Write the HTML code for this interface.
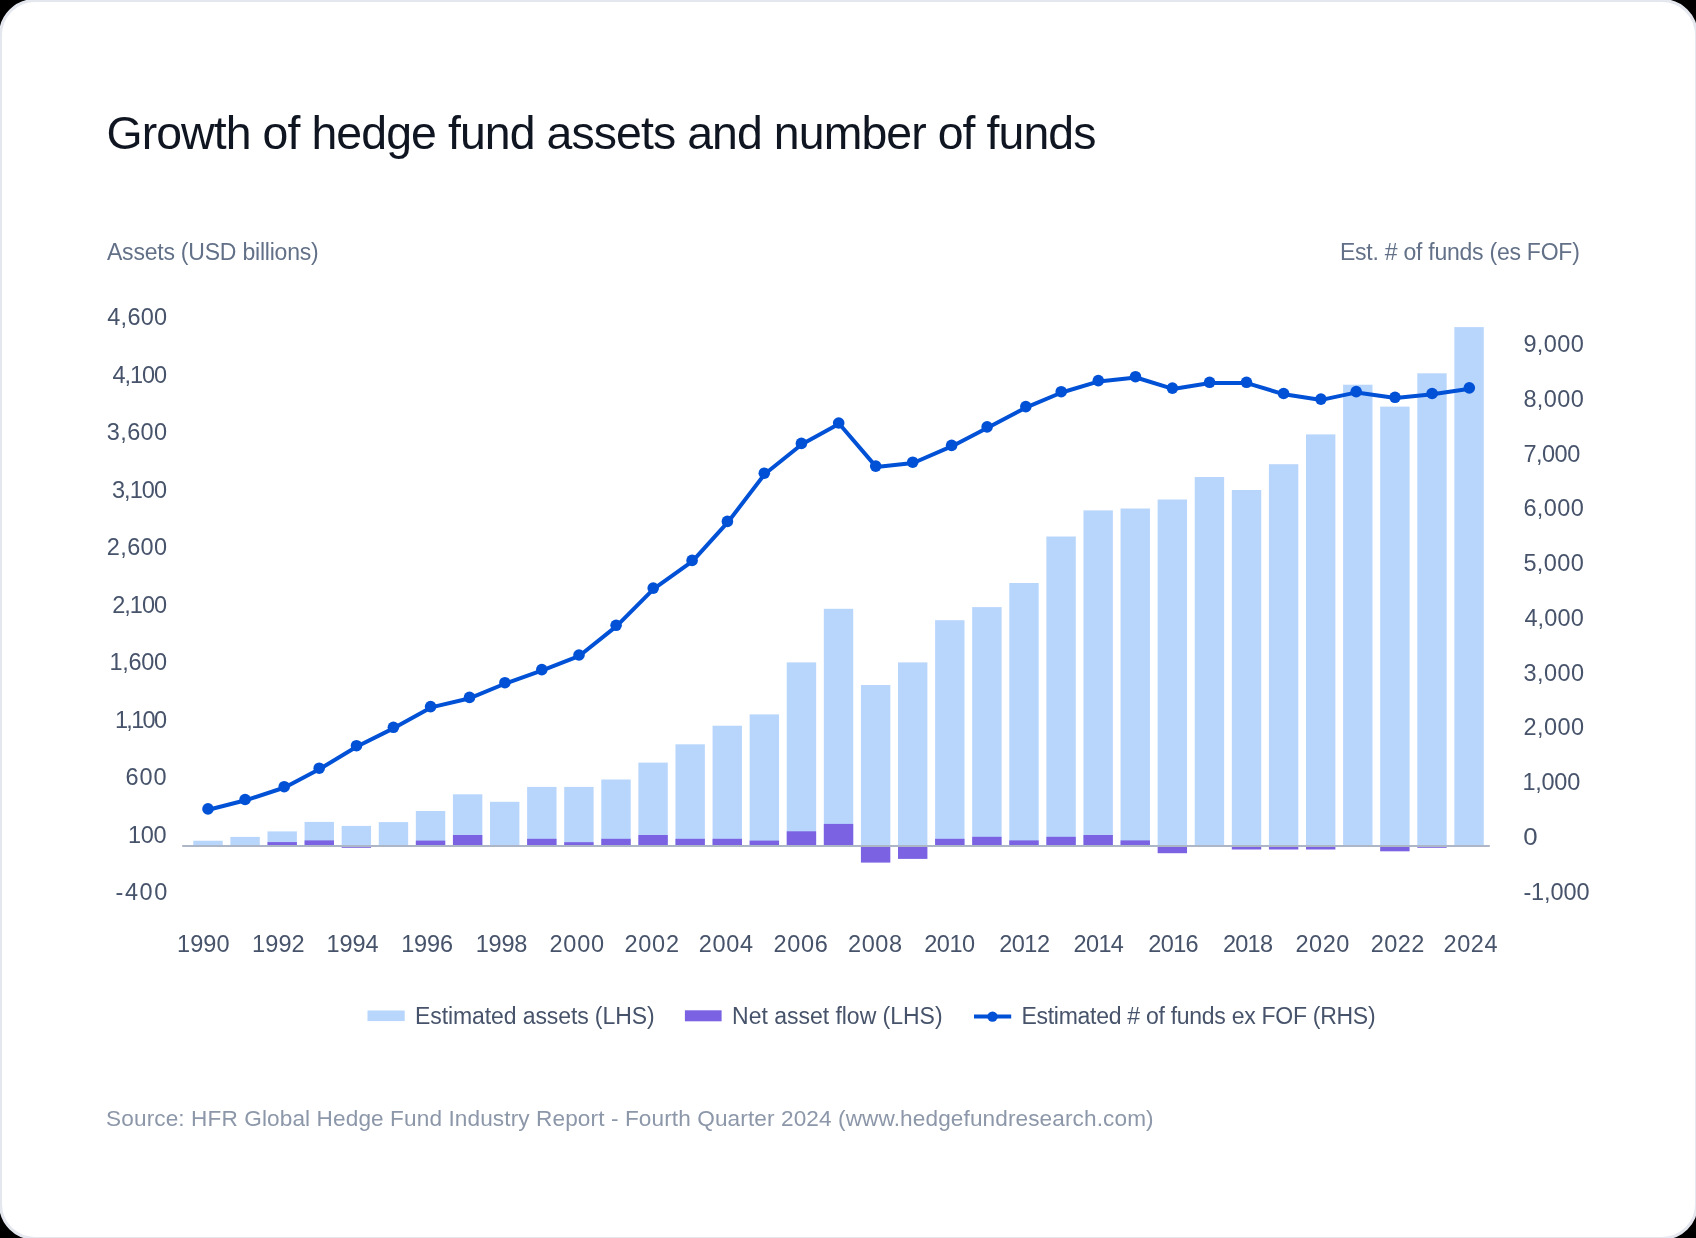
<!DOCTYPE html>
<html><head><meta charset="utf-8"><title>Growth of hedge fund assets and number of funds</title>
<style>
html,body{margin:0;padding:0;background:#000;width:1696px;height:1238px;overflow:hidden}
.card{position:absolute;left:-1.5px;top:-1.5px;width:1699px;height:1241px;box-sizing:border-box;border:3.5px solid #e4e7ee;border-radius:36px;background:#fff}
svg{position:absolute;left:0;top:0;will-change:transform}
text{font-family:"Liberation Sans", sans-serif}
</style></head>
<body><div class="card"></div>
<svg width="1696" height="1238" viewBox="0 0 1696 1238">
<rect x="193.30" y="840.70" width="29.4" height="5.00" fill="#b8d6fc"/>
<rect x="230.39" y="836.90" width="29.4" height="8.80" fill="#b8d6fc"/>
<rect x="267.48" y="831.40" width="29.4" height="14.30" fill="#b8d6fc"/>
<rect x="304.57" y="821.90" width="29.4" height="23.80" fill="#b8d6fc"/>
<rect x="341.66" y="825.90" width="29.4" height="19.80" fill="#b8d6fc"/>
<rect x="378.75" y="822.10" width="29.4" height="23.60" fill="#b8d6fc"/>
<rect x="415.84" y="811.00" width="29.4" height="34.70" fill="#b8d6fc"/>
<rect x="452.93" y="794.30" width="29.4" height="51.40" fill="#b8d6fc"/>
<rect x="490.02" y="801.80" width="29.4" height="43.90" fill="#b8d6fc"/>
<rect x="527.11" y="786.90" width="29.4" height="58.80" fill="#b8d6fc"/>
<rect x="564.20" y="786.90" width="29.4" height="58.80" fill="#b8d6fc"/>
<rect x="601.29" y="779.50" width="29.4" height="66.20" fill="#b8d6fc"/>
<rect x="638.38" y="762.60" width="29.4" height="83.10" fill="#b8d6fc"/>
<rect x="675.47" y="744.30" width="29.4" height="101.40" fill="#b8d6fc"/>
<rect x="712.56" y="725.70" width="29.4" height="120.00" fill="#b8d6fc"/>
<rect x="749.65" y="714.40" width="29.4" height="131.30" fill="#b8d6fc"/>
<rect x="786.74" y="662.40" width="29.4" height="183.30" fill="#b8d6fc"/>
<rect x="823.83" y="608.80" width="29.4" height="236.90" fill="#b8d6fc"/>
<rect x="860.92" y="685.00" width="29.4" height="160.70" fill="#b8d6fc"/>
<rect x="898.01" y="662.40" width="29.4" height="183.30" fill="#b8d6fc"/>
<rect x="935.10" y="620.20" width="29.4" height="225.50" fill="#b8d6fc"/>
<rect x="972.19" y="607.10" width="29.4" height="238.60" fill="#b8d6fc"/>
<rect x="1009.28" y="583.00" width="29.4" height="262.70" fill="#b8d6fc"/>
<rect x="1046.37" y="536.50" width="29.4" height="309.20" fill="#b8d6fc"/>
<rect x="1083.46" y="510.40" width="29.4" height="335.30" fill="#b8d6fc"/>
<rect x="1120.55" y="508.50" width="29.4" height="337.20" fill="#b8d6fc"/>
<rect x="1157.64" y="499.50" width="29.4" height="346.20" fill="#b8d6fc"/>
<rect x="1194.73" y="477.00" width="29.4" height="368.70" fill="#b8d6fc"/>
<rect x="1231.82" y="490.00" width="29.4" height="355.70" fill="#b8d6fc"/>
<rect x="1268.91" y="464.20" width="29.4" height="381.50" fill="#b8d6fc"/>
<rect x="1306.00" y="434.40" width="29.4" height="411.30" fill="#b8d6fc"/>
<rect x="1343.09" y="384.70" width="29.4" height="461.00" fill="#b8d6fc"/>
<rect x="1380.18" y="406.60" width="29.4" height="439.10" fill="#b8d6fc"/>
<rect x="1417.27" y="373.30" width="29.4" height="472.40" fill="#b8d6fc"/>
<rect x="1454.36" y="327.10" width="29.4" height="518.60" fill="#b8d6fc"/>
<rect x="267.48" y="842.10" width="29.4" height="3.60" fill="#7b62e2"/>
<rect x="304.57" y="840.40" width="29.4" height="5.30" fill="#7b62e2"/>
<rect x="341.66" y="845.70" width="29.4" height="2.10" fill="#7b62e2"/>
<rect x="415.84" y="840.60" width="29.4" height="5.10" fill="#7b62e2"/>
<rect x="452.93" y="835.00" width="29.4" height="10.70" fill="#7b62e2"/>
<rect x="527.11" y="838.80" width="29.4" height="6.90" fill="#7b62e2"/>
<rect x="564.20" y="842.20" width="29.4" height="3.50" fill="#7b62e2"/>
<rect x="601.29" y="838.80" width="29.4" height="6.90" fill="#7b62e2"/>
<rect x="638.38" y="835.00" width="29.4" height="10.70" fill="#7b62e2"/>
<rect x="675.47" y="838.80" width="29.4" height="6.90" fill="#7b62e2"/>
<rect x="712.56" y="838.80" width="29.4" height="6.90" fill="#7b62e2"/>
<rect x="749.65" y="840.60" width="29.4" height="5.10" fill="#7b62e2"/>
<rect x="786.74" y="831.30" width="29.4" height="14.40" fill="#7b62e2"/>
<rect x="823.83" y="823.90" width="29.4" height="21.80" fill="#7b62e2"/>
<rect x="860.92" y="845.70" width="29.4" height="16.90" fill="#7b62e2"/>
<rect x="898.01" y="845.70" width="29.4" height="13.20" fill="#7b62e2"/>
<rect x="935.10" y="838.80" width="29.4" height="6.90" fill="#7b62e2"/>
<rect x="972.19" y="836.80" width="29.4" height="8.90" fill="#7b62e2"/>
<rect x="1009.28" y="840.40" width="29.4" height="5.30" fill="#7b62e2"/>
<rect x="1046.37" y="836.80" width="29.4" height="8.90" fill="#7b62e2"/>
<rect x="1083.46" y="835.00" width="29.4" height="10.70" fill="#7b62e2"/>
<rect x="1120.55" y="840.40" width="29.4" height="5.30" fill="#7b62e2"/>
<rect x="1157.64" y="845.70" width="29.4" height="7.50" fill="#7b62e2"/>
<rect x="1231.82" y="845.70" width="29.4" height="3.80" fill="#7b62e2"/>
<rect x="1268.91" y="845.70" width="29.4" height="3.80" fill="#7b62e2"/>
<rect x="1306.00" y="845.70" width="29.4" height="3.80" fill="#7b62e2"/>
<rect x="1380.18" y="845.70" width="29.4" height="5.60" fill="#7b62e2"/>
<rect x="1417.27" y="845.70" width="29.4" height="2.10" fill="#7b62e2"/>
<line x1="182.2" y1="846.1" x2="1489.8" y2="846.1" stroke="#adb6c6" stroke-width="2"/>
<polyline points="208.00,808.90 245.10,799.50 284.20,786.70 319.20,768.20 356.50,745.70 393.40,727.30 430.60,706.60 469.50,697.40 504.90,682.70 541.80,669.60 579.00,655.00 616.10,625.30 653.20,588.10 692.10,560.40 727.40,521.40 764.30,473.20 801.40,443.40 838.70,423.00 875.70,466.10 912.70,462.20 951.60,445.40 987.10,426.90 1025.80,406.60 1061.20,391.70 1098.30,380.60 1135.50,376.70 1172.40,388.10 1209.60,382.30 1246.50,382.30 1283.60,393.50 1320.90,399.10 1356.20,391.60 1395.00,397.30 1432.10,393.50 1469.30,387.90" transform="translate(0.5,0.8)" fill="none" stroke="#0051d6" stroke-width="4" stroke-linejoin="round"/>
<circle cx="208.00" cy="808.90" r="5.8" fill="#0051d6"/>
<circle cx="245.10" cy="799.50" r="5.8" fill="#0051d6"/>
<circle cx="284.20" cy="786.70" r="5.8" fill="#0051d6"/>
<circle cx="319.20" cy="768.20" r="5.8" fill="#0051d6"/>
<circle cx="356.50" cy="745.70" r="5.8" fill="#0051d6"/>
<circle cx="393.40" cy="727.30" r="5.8" fill="#0051d6"/>
<circle cx="430.60" cy="706.60" r="5.8" fill="#0051d6"/>
<circle cx="469.50" cy="697.40" r="5.8" fill="#0051d6"/>
<circle cx="504.90" cy="682.70" r="5.8" fill="#0051d6"/>
<circle cx="541.80" cy="669.60" r="5.8" fill="#0051d6"/>
<circle cx="579.00" cy="655.00" r="5.8" fill="#0051d6"/>
<circle cx="616.10" cy="625.30" r="5.8" fill="#0051d6"/>
<circle cx="653.20" cy="588.10" r="5.8" fill="#0051d6"/>
<circle cx="692.10" cy="560.40" r="5.8" fill="#0051d6"/>
<circle cx="727.40" cy="521.40" r="5.8" fill="#0051d6"/>
<circle cx="764.30" cy="473.20" r="5.8" fill="#0051d6"/>
<circle cx="801.40" cy="443.40" r="5.8" fill="#0051d6"/>
<circle cx="838.70" cy="423.00" r="5.8" fill="#0051d6"/>
<circle cx="875.70" cy="466.10" r="5.8" fill="#0051d6"/>
<circle cx="912.70" cy="462.20" r="5.8" fill="#0051d6"/>
<circle cx="951.60" cy="445.40" r="5.8" fill="#0051d6"/>
<circle cx="987.10" cy="426.90" r="5.8" fill="#0051d6"/>
<circle cx="1025.80" cy="406.60" r="5.8" fill="#0051d6"/>
<circle cx="1061.20" cy="391.70" r="5.8" fill="#0051d6"/>
<circle cx="1098.30" cy="380.60" r="5.8" fill="#0051d6"/>
<circle cx="1135.50" cy="376.70" r="5.8" fill="#0051d6"/>
<circle cx="1172.40" cy="388.10" r="5.8" fill="#0051d6"/>
<circle cx="1209.60" cy="382.30" r="5.8" fill="#0051d6"/>
<circle cx="1246.50" cy="382.30" r="5.8" fill="#0051d6"/>
<circle cx="1283.60" cy="393.50" r="5.8" fill="#0051d6"/>
<circle cx="1320.90" cy="399.10" r="5.8" fill="#0051d6"/>
<circle cx="1356.20" cy="391.60" r="5.8" fill="#0051d6"/>
<circle cx="1395.00" cy="397.30" r="5.8" fill="#0051d6"/>
<circle cx="1432.10" cy="393.50" r="5.8" fill="#0051d6"/>
<circle cx="1469.30" cy="387.90" r="5.8" fill="#0051d6"/>
<rect x="367.5" y="1010.5" width="37.2" height="10.6" fill="#b8d6fc"/>
<rect x="684.9" y="1010.3" width="36.7" height="11" fill="#7b62e2"/>
<line x1="974" y1="1016.6" x2="1011.2" y2="1016.6" stroke="#0051d6" stroke-width="4"/>
<circle cx="992.5" cy="1016.6" r="5.2" fill="#0051d6"/>
<text x="106.5" y="148.6" font-size="46.4" fill="#0f1521" textLength="989.96" lengthAdjust="spacing">Growth of hedge fund assets and number of funds</text>
<text x="107.0" y="260.1" font-size="23" fill="#637188" textLength="211.7" lengthAdjust="spacing">Assets (USD billions)</text>
<text x="1339.9" y="260.2" font-size="23" fill="#637188" textLength="239.91" lengthAdjust="spacing">Est. # of funds (es FOF)</text>
<text x="107.3" y="325.0" font-size="23.5" fill="#46536a" textLength="59.81" lengthAdjust="spacing">4,600</text>
<text x="112.5" y="382.5" font-size="23.5" fill="#46536a" textLength="54.61" lengthAdjust="spacing">4,100</text>
<text x="106.8" y="440.0" font-size="23.5" fill="#46536a" textLength="60.31" lengthAdjust="spacing">3,600</text>
<text x="111.9" y="497.5" font-size="23.5" fill="#46536a" textLength="55.21" lengthAdjust="spacing">3,100</text>
<text x="106.8" y="555.0" font-size="23.5" fill="#46536a" textLength="60.31" lengthAdjust="spacing">2,600</text>
<text x="112.2" y="612.5" font-size="23.5" fill="#46536a" textLength="54.91" lengthAdjust="spacing">2,100</text>
<text x="109.6" y="670.0" font-size="23.5" fill="#46536a" textLength="57.51" lengthAdjust="spacing">1,600</text>
<text x="114.9" y="727.5" font-size="23.5" fill="#46536a" textLength="52.21" lengthAdjust="spacing">1,100</text>
<text x="125.4" y="785.0" font-size="23.5" fill="#46536a" textLength="41.11" lengthAdjust="spacing">600</text>
<text x="127.9" y="842.5" font-size="23.5" fill="#46536a" textLength="38.61" lengthAdjust="spacing">100</text>
<text x="115.6" y="900.0" font-size="23.5" fill="#46536a" textLength="51.73" lengthAdjust="spacing">-400</text>
<text x="1523.4" y="352.0" font-size="23.5" fill="#46536a" textLength="60.41" lengthAdjust="spacing">9,000</text>
<text x="1523.4" y="406.76" font-size="23.5" fill="#46536a" textLength="60.41" lengthAdjust="spacing">8,000</text>
<text x="1523.4" y="461.52" font-size="23.5" fill="#46536a" textLength="56.81" lengthAdjust="spacing">7,000</text>
<text x="1523.4" y="516.28" font-size="23.5" fill="#46536a" textLength="60.41" lengthAdjust="spacing">6,000</text>
<text x="1523.4" y="571.04" font-size="23.5" fill="#46536a" textLength="60.41" lengthAdjust="spacing">5,000</text>
<text x="1524.4" y="625.8" font-size="23.5" fill="#46536a" textLength="59.41" lengthAdjust="spacing">4,000</text>
<text x="1523.4" y="680.56" font-size="23.5" fill="#46536a" textLength="60.61" lengthAdjust="spacing">3,000</text>
<text x="1523.4" y="735.3199999999999" font-size="23.5" fill="#46536a" textLength="60.61" lengthAdjust="spacing">2,000</text>
<text x="1522.4" y="790.0799999999999" font-size="23.5" fill="#46536a" textLength="57.81" lengthAdjust="spacing">1,000</text>
<text transform="translate(1524.4 844.8399999999999) scale(1.100 1)" x="-1" y="0" font-size="23.5" fill="#46536a">0</text>
<text x="1523.4" y="899.6" font-size="23.5" fill="#46536a" textLength="66.13" lengthAdjust="spacing">-1,000</text>
<text x="177.1" y="951.7" font-size="23.5" fill="#46536a" textLength="52.48" lengthAdjust="spacing">1990</text>
<text x="252.0" y="951.7" font-size="23.5" fill="#46536a" textLength="52.68" lengthAdjust="spacing">1992</text>
<text x="326.5" y="951.7" font-size="23.5" fill="#46536a" textLength="52.08" lengthAdjust="spacing">1994</text>
<text x="401.2" y="951.7" font-size="23.5" fill="#46536a" textLength="51.78" lengthAdjust="spacing">1996</text>
<text x="475.8" y="951.7" font-size="23.5" fill="#46536a" textLength="51.48" lengthAdjust="spacing">1998</text>
<text x="549.4" y="951.7" font-size="23.5" fill="#46536a" textLength="54.68" lengthAdjust="spacing">2000</text>
<text x="624.5" y="951.7" font-size="23.5" fill="#46536a" textLength="54.48" lengthAdjust="spacing">2002</text>
<text x="698.7" y="951.7" font-size="23.5" fill="#46536a" textLength="54.38" lengthAdjust="spacing">2004</text>
<text x="773.6" y="951.7" font-size="23.5" fill="#46536a" textLength="54.28" lengthAdjust="spacing">2006</text>
<text x="847.9" y="951.7" font-size="23.5" fill="#46536a" textLength="54.28" lengthAdjust="spacing">2008</text>
<text x="924.3" y="951.7" font-size="23.5" fill="#46536a" textLength="50.78" lengthAdjust="spacing">2010</text>
<text x="999.3" y="951.7" font-size="23.5" fill="#46536a" textLength="50.68" lengthAdjust="spacing">2012</text>
<text x="1073.6" y="951.7" font-size="23.5" fill="#46536a" textLength="50.28" lengthAdjust="spacing">2014</text>
<text x="1148.2" y="951.7" font-size="23.5" fill="#46536a" textLength="50.48" lengthAdjust="spacing">2016</text>
<text x="1222.9" y="951.7" font-size="23.5" fill="#46536a" textLength="50.08" lengthAdjust="spacing">2018</text>
<text x="1295.5" y="951.7" font-size="23.5" fill="#46536a" textLength="53.78" lengthAdjust="spacing">2020</text>
<text x="1370.7" y="951.7" font-size="23.5" fill="#46536a" textLength="53.58" lengthAdjust="spacing">2022</text>
<text x="1443.4" y="951.7" font-size="23.5" fill="#46536a" textLength="54.28" lengthAdjust="spacing">2024</text>
<text x="415.0" y="1024.2" font-size="23" fill="#46536a" textLength="239.58" lengthAdjust="spacing">Estimated assets (LHS)</text>
<text x="732.1" y="1024.2" font-size="23" fill="#46536a" textLength="210.5" lengthAdjust="spacing">Net asset flow (LHS)</text>
<text x="1021.4" y="1024.2" font-size="23" fill="#46536a" textLength="354.2" lengthAdjust="spacing">Estimated # of funds ex FOF (RHS)</text>
<text x="106.1" y="1125.5" font-size="22.6" fill="#8c97a9" textLength="1047.49" lengthAdjust="spacing">Source: HFR Global Hedge Fund Industry Report - Fourth Quarter 2024 (www.hedgefundresearch.com)</text>
</svg>
</body></html>
